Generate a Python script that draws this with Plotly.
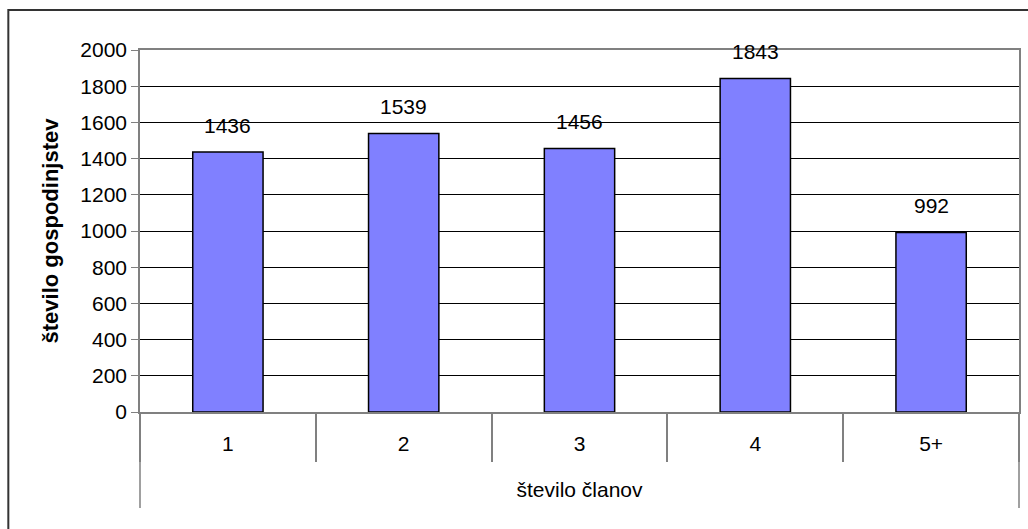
import plotly.graph_objects as go

members = ["1", "2", "3", "4", "5+"]
households = [1436, 1539, 1456, 1843, 992]

y_title = "število gospodinjstev"
x_title = "število članov"

font_family = "Liberation Sans, Arial, sans-serif"

fig = go.Figure(go.Bar(
    x=members,
    y=households,
    marker=dict(color="#8080FF", line=dict(color="black", width=1.5)),
    hoverinfo="x+y",
))

# value labels above each bar (x given as category index)
for i, v in enumerate(households):
    fig.add_annotation(
        x=i, y=v, text=str(v), showarrow=False,
        yanchor="bottom", yshift=13,
        font=dict(size=21, color="black"),
    )

# outer chart frame and long category-group lines
fig.add_shape(type="rect", xref="paper", yref="paper",
              x0=-0.1498, x1=1.2, y0=-0.6, y1=1.1105,
              line=dict(color="#333333", width=2), layer="below")
for xp in [0, 1]:
    fig.add_shape(type="line", xref="paper", yref="paper",
                  x0=xp, x1=xp, y0=0, y1=-0.2652,
                  line=dict(color="#808080", width=1.5))

fig.update_layout(
    width=1028,
    height=529,
    margin=dict(l=140, r=7, t=50, b=117),
    paper_bgcolor="white",
    plot_bgcolor="white",
    bargap=0.6,
    showlegend=False,
    font=dict(family=font_family, size=21, color="black"),
)

fig.update_xaxes(
    type="category",
    showline=True, linecolor="#808080", linewidth=1.5, mirror=True,
    ticks="outside", tickson="boundaries", ticklen=48,
    tickcolor="#808080", tickwidth=1.5,
    ticklabelstandoff=12,
    tickfont=dict(size=21),
    title=dict(text=x_title, font=dict(size=21), standoff=28),
    showgrid=False,
)
fig.update_yaxes(
    range=[0, 2000], dtick=200,
    showline=True, linecolor="#808080", linewidth=1.5, mirror=True,
    ticks="outside", ticklen=7, tickcolor="#808080", tickwidth=1,
    showgrid=True, gridcolor="black", gridwidth=1,
    tickfont=dict(size=21),
    title=dict(text="<b>" + y_title + "</b>", font=dict(size=22), standoff=16),
    zeroline=False,
)

fig.write_html("out.html", config={"displayModeBar": False},
               post_script="document.body.style.margin='0';")
